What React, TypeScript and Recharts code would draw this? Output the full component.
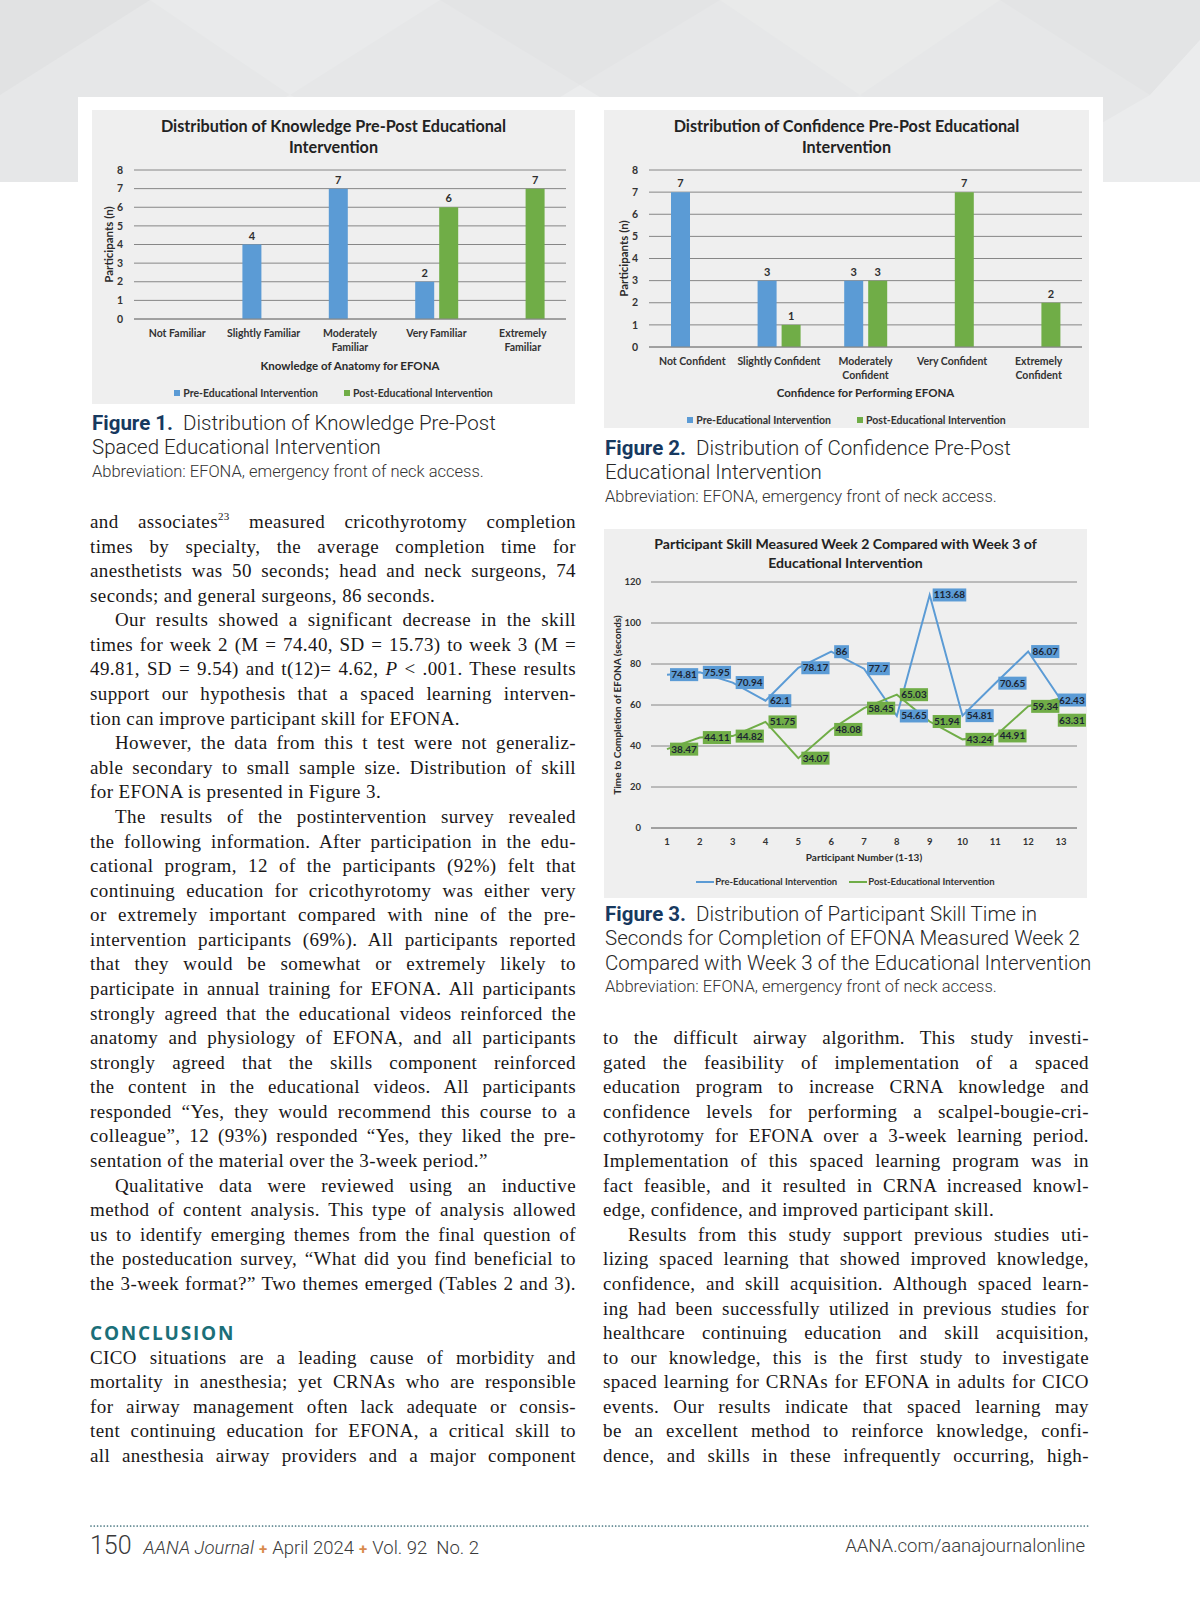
import React from "react";
import {
    BarChart,
    Bar,
    LineChart,
    Line,
    XAxis,
    YAxis,
    CartesianGrid,
    LabelList,
    Label,
} from "recharts";

// Figure 1 -- knowledge
const knowledgeLevels = ["Not Familiar", "Slightly Familiar", "Moderately\nFamiliar", "Very Familiar", "Extremely\nFamiliar"];
const knowledgePre = [0, 4, 7, 2, 0];
const knowledgePost = [0, 0, 0, 6, 7];

// Figure 2 -- confidence
const confidenceLevels = ["Not Confident", "Slightly Confident", "Moderately\nConfident", "Very Confident", "Extremely\nConfident"];
const confidencePre = [7, 3, 3, 0, 0];
const confidencePost = [0, 1, 3, 7, 2];

// Figure 3 -- skill time (seconds)
const participantNumbers = ["1", "2", "3", "4", "5", "6", "7", "8", "9", "10", "11", "12", "13"];
const skillWeek2 = [74.81, 75.95, 70.94, 62.1, 78.17, 86, 77.7, 54.65, 113.68, 54.81, 70.65, 86.07, 62.43];
const skillWeek3 = [38.47, 44.11, 44.82, 51.75, 34.07, 48.08, 58.45, 65.03, 51.94, 43.24, 44.91, 59.34, 63.31];

const countTicks = [0, 1, 2, 3, 4, 5, 6, 7, 8];
const secondTicks = [0, 20, 40, 60, 80, 100, 120];

const PRE = "#5b9bd5";
const POST = "#70ad47";
const GRID = "#868686";
const CHART_FONT = "Lato, 'Open Sans', sans-serif";
const SERIF = "'Liberation Serif', 'DejaVu Serif', serif";
const SANS = "Roboto, 'Liberation Sans', sans-serif";

function CategoryTick({ x, y, payload }: any) {
    const lines = String(payload.value).split("\n");
    return (
        <text x={x} y={y} textAnchor="middle" fontFamily={CHART_FONT} fontSize={10.5} fontWeight={700} fill="#333">
            {lines.map((l, i) => (
                <tspan key={i} x={x} dy={i === 0 ? 10 : 13.5}>
                    {l}
                </tspan>
            ))}
        </text>
    );
}

function yTitle(text: string, dx: number, size: number) {
    return (p: any) => {
        const vb = p.viewBox || {};
        const x = (vb.x || 0) + dx;
        const y = (vb.y || 0) + (vb.height || 0) / 2;
        return (
            <text
                x={x}
                y={y}
                transform={`rotate(-90 ${x} ${y})`}
                textAnchor="middle"
                dominantBaseline="central"
                fontFamily={CHART_FONT}
                fontSize={size}
                fontWeight={700}
                fill="#2b2b2b"
            >
                {text}
            </text>
        );
    };
}

function xTitle(text: string, dy: number, size: number) {
    return (p: any) => {
        const vb = p.viewBox || {};
        const x = (vb.x || 0) + (vb.width || 0) / 2;
        const y = (vb.y || 0) + dy;
        return (
            <text x={x} y={y} textAnchor="middle" dominantBaseline="central" fontFamily={CHART_FONT} fontSize={size} fontWeight={700} fill="#2b2b2b">
                {text}
            </text>
        );
    };
}

function ChartTitle({ lines, top, size, lh }: { lines: string[]; top: number; size: number; lh: number }) {
    return (
        <div
            style={{
                position: "absolute",
                left: 0,
                right: 0,
                top,
                textAlign: "center",
                fontFamily: CHART_FONT,
                fontWeight: 700,
                fontSize: size,
                lineHeight: `${lh}px`,
                color: "#222",
            }}
        >
            {lines.map((l) => (
                <div key={l}>{l}</div>
            ))}
        </div>
    );
}

function SwatchLegend({ top, kind }: { top: number; kind: "square" | "line" }) {
    const items = [
        { label: "Pre-Educational Intervention", color: PRE },
        { label: "Post-Educational Intervention", color: POST },
    ];
    return (
        <div
            style={{
                position: "absolute",
                left: 0,
                right: 0,
                top,
                display: "flex",
                justifyContent: "center",
                gap: kind === "square" ? 26 : 12,
                fontFamily: CHART_FONT,
                fontWeight: 700,
                fontSize: kind === "square" ? 10.5 : 9.5,
                color: "#333",
                lineHeight: "14px",
            }}
        >
            {items.map((it) => (
                <div key={it.label} style={{ display: "flex", alignItems: "center" }}>
                    {kind === "square" ? (
                        <span style={{ width: 6, height: 6, background: it.color, marginRight: 3 }} />
                    ) : (
                        <span style={{ width: 18, height: 2, background: it.color, marginRight: 1 }} />
                    )}
                    {it.label}
                </div>
            ))}
        </div>
    );
}

const valueLabelStyle = { fontFamily: CHART_FONT, fontSize: 11, fontWeight: 700, fill: "#2e2e2e" };

interface BarFigureProps {
    title: string[];
    categories: string[];
    pre: number[];
    post: number[];
    axisTitle: string;
    width: number;
    height: number;
    yWidth: number;
    right: number;
    xHeight: number;
    yTitleDx: number;
    xTitleDy: number;
    legendTop: number;
}

function BarFigure(p: BarFigureProps) {
    const data = p.categories.map((name, i) => ({ name, pre: p.pre[i], post: p.post[i] }));
    return (
        <div style={{ position: "relative", width: p.width, height: p.height, background: "#efefef" }}>
            <ChartTitle lines={p.title} top={5} size={16.2} lh={21} />
            <BarChart
                width={p.width}
                height={p.height}
                data={data}
                margin={{ top: 60, right: p.right, left: 0, bottom: 0 }}
                barGap={5}
                barSize={19}
                style={{ position: "absolute", left: 0, top: 0 }}
            >
                <CartesianGrid vertical={false} stroke={GRID} />
                <XAxis
                    dataKey="name"
                    height={p.xHeight}
                    tickLine={false}
                    axisLine={{ stroke: GRID }}
                    interval={0}
                    tick={<CategoryTick />}
                >
                    <Label content={xTitle(p.axisTitle, p.xTitleDy, 11.5)} />
                </XAxis>
                <YAxis
                    width={p.yWidth}
                    domain={[0, 8]}
                    ticks={countTicks}
                    interval={0}
                    axisLine={false}
                    tickLine={false}
                    tickMargin={5}
                    tick={{ fontFamily: CHART_FONT, fontSize: 10.5, fontWeight: 700, fill: "#333" }}
                >
                    <Label content={yTitle("Participants (n)", p.yTitleDx, 11.5)} />
                </YAxis>
                <Bar dataKey="pre" fill={PRE} isAnimationActive={false}>
                    <LabelList dataKey="pre" position="top" offset={5} style={valueLabelStyle} />
                </Bar>
                <Bar dataKey="post" fill={POST} isAnimationActive={false}>
                    <LabelList dataKey="post" position="top" offset={5} style={valueLabelStyle} />
                </Bar>
            </BarChart>
            <SwatchLegend top={p.legendTop} kind="square" />
        </div>
    );
}

// data label box to the right of each point, kept inside the chart frame
function valueTag(color: string, frameWidth: number, nudge: Record<number, number> = {}) {
    return (props: any) => {
        const { x, y, value, index } = props;
        if (x == null || y == null) return null;
        const txt = String(value);
        let w = 4;
        for (const ch of txt) w += ch === "." ? 2.6 : 5.4;
        const bx = Math.min(x + 3, frameWidth - w - 1);
        const cy = y + (nudge[index] || 0);
        return (
            <g>
                <rect x={bx} y={cy - 6.5} width={w} height={13} fill={color} />
                <text x={bx + w / 2} y={cy + 3.5} textAnchor="middle" fontFamily={CHART_FONT} fontSize={10} fontWeight={700} fill="#1c2533">
                    {txt}
                </text>
            </g>
        );
    };
}

function SkillFigure() {
    const data = participantNumbers.map((name, i) => ({ name, pre: skillWeek2[i], post: skillWeek3[i] }));
    const W = 483;
    const H = 369;
    return (
        <div style={{ position: "relative", width: W, height: H, background: "#efefef", overflow: "hidden" }}>
            <ChartTitle
                lines={["Participant Skill Measured Week 2 Compared with Week 3 of", "Educational Intervention"]}
                top={4.5}
                size={14.1}
                lh={19}
            />
            <LineChart
                width={W}
                height={H}
                data={data}
                margin={{ top: 53, right: 10, left: 0, bottom: 0 }}
                style={{ position: "absolute", left: 0, top: 0 }}
            >
                <CartesianGrid vertical={false} stroke={GRID} />
                <XAxis
                    dataKey="name"
                    height={70}
                    padding={{ left: 16, right: 16 }}
                    tickLine={false}
                    axisLine={{ stroke: GRID }}
                    interval={0}
                    tickMargin={4}
                    tick={{ fontFamily: CHART_FONT, fontSize: 9.5, fontWeight: 700, fill: "#333" }}
                >
                    <Label content={xTitle("Participant Number (1-13)", 29, 10)} />
                </XAxis>
                <YAxis
                    width={47}
                    domain={[0, 120]}
                    ticks={secondTicks}
                    interval={0}
                    axisLine={false}
                    tickLine={false}
                    tickMargin={4}
                    tick={{ fontFamily: CHART_FONT, fontSize: 9.5, fontWeight: 700, fill: "#333" }}
                >
                    <Label content={yTitle("Time to Completion of EFONA (seconds)", 13, 10)} />
                </YAxis>
                <Line type="linear" dataKey="pre" stroke={PRE} strokeWidth={2} dot={false} isAnimationActive={false}>
                    <LabelList dataKey="pre" content={valueTag(PRE, W)} />
                </Line>
                <Line type="linear" dataKey="post" stroke={POST} strokeWidth={2} dot={false} isAnimationActive={false}>
                    <LabelList dataKey="post" content={valueTag(POST, W, { 12: 22 })} />
                </Line>
            </LineChart>
            <div style={{ position: "absolute", left: 0, right: 0, top: 346 }}>
                <SwatchLegend top={0} kind="line" />
            </div>
        </div>
    );
}

function Caption({ left, top, figure, lines }: { left: number; top: number; figure: string; lines: string[] }) {
    return (
        <div style={{ position: "absolute", left, top, width: 500, fontFamily: SANS, color: "#262626", lineHeight: "24.6px" }}>
            {lines.map((l, i) => (
                <div key={i} style={{ fontSize: 20.5, fontWeight: 300, whiteSpace: "nowrap" }}>
                    {i === 0 && <span style={{ fontWeight: 700, color: "#17395f", marginRight: 10 }}>{figure}</span>}
                    {l}
                </div>
            ))}
            <div style={{ fontSize: 16.5, fontWeight: 300, color: "#333" }}>Abbreviation: EFONA, emergency front of neck access.</div>
        </div>
    );
}

type TL = { t: React.ReactNode; indent?: boolean; last?: boolean; head?: boolean; blank?: boolean };

const leftLines: TL[] = [
    { t: <>and associates<sup style={{ fontSize: 11, verticalAlign: "8px", lineHeight: 0 }}>23</sup> measured cricothyrotomy completion</> },
    { t: "times by specialty, the average completion time for" },
    { t: "anesthetists was 50 seconds; head and neck surgeons, 74" },
    { t: "seconds; and general surgeons, 86 seconds.", last: true },
    { t: "Our results showed a significant decrease in the skill", indent: true },
    { t: "times for week 2 (M = 74.40, SD = 15.73) to week 3 (M =" },
    { t: <>49.81, SD = 9.54) and t(12)= 4.62, <i>P</i> &lt; .001. These results</> },
    { t: "support our hypothesis that a spaced learning interven-" },
    { t: "tion can improve participant skill for EFONA.", last: true },
    { t: "However, the data from this t test were not generaliz-", indent: true },
    { t: "able secondary to small sample size. Distribution of skill" },
    { t: "for EFONA is presented in Figure 3.", last: true },
    { t: "The results of the postintervention survey revealed", indent: true },
    { t: "the following information. After participation in the edu-" },
    { t: "cational program, 12 of the participants (92%) felt that" },
    { t: "continuing education for cricothyrotomy was either very" },
    { t: "or extremely important compared with nine of the pre-" },
    { t: "intervention participants (69%). All participants reported" },
    { t: "that they would be somewhat or extremely likely to" },
    { t: "participate in annual training for EFONA. All participants" },
    { t: "strongly agreed that the educational videos reinforced the" },
    { t: "anatomy and physiology of EFONA, and all participants" },
    { t: "strongly agreed that the skills component reinforced" },
    { t: "the content in the educational videos. All participants" },
    { t: "responded \u201cYes, they would recommend this course to a" },
    { t: "colleague\u201d, 12 (93%) responded \u201cYes, they liked the pre-" },
    { t: "sentation of the material over the 3-week period.\u201d", last: true },
    { t: "Qualitative data were reviewed using an inductive", indent: true },
    { t: "method of content analysis. This type of analysis allowed" },
    { t: "us to identify emerging themes from the final question of" },
    { t: "the posteducation survey, \u201cWhat did you find beneficial to" },
    { t: "the 3-week format?\u201d Two themes emerged (Tables 2 and 3)." },
    { t: "", blank: true },
    { t: "CONCLUSION", head: true },
    { t: "CICO situations are a leading cause of morbidity and" },
    { t: "mortality in anesthesia; yet CRNAs who are responsible" },
    { t: "for airway management often lack adequate or consis-" },
    { t: "tent continuing education for EFONA, a critical skill to" },
    { t: "all anesthesia airway providers and a major component" },
];

const rightLines: TL[] = [
    { t: "to the difficult airway algorithm. This study investi-" },
    { t: "gated the feasibility of implementation of a spaced" },
    { t: "education program to increase CRNA knowledge and" },
    { t: "confidence levels for performing a scalpel-bougie-cri-" },
    { t: "cothyrotomy for EFONA over a 3-week learning period." },
    { t: "Implementation of this spaced learning program was in" },
    { t: "fact feasible, and it resulted in CRNA increased knowl-" },
    { t: "edge, confidence, and improved participant skill.", last: true },
    { t: "Results from this study support previous studies uti-", indent: true },
    { t: "lizing spaced learning that showed improved knowledge," },
    { t: "confidence, and skill acquisition. Although spaced learn-" },
    { t: "ing had been successfully utilized in previous studies for" },
    { t: "healthcare continuing education and skill acquisition," },
    { t: "to our knowledge, this is the first study to investigate" },
    { t: "spaced learning for CRNAs for EFONA in adults for CICO" },
    { t: "events. Our results indicate that spaced learning may" },
    { t: "be an excellent method to reinforce knowledge, confi-" },
    { t: "dence, and skills in these infrequently occurring, high-" },
];

const LINE = 24.58;

function TextColumn({ left, top, width, lines }: { left: number; top: number; width: number; lines: TL[] }) {
    return (
        <div style={{ position: "absolute", left, top, width, fontFamily: SERIF, fontSize: 19, letterSpacing: 0.4, color: "#1a1718" }}>
            {lines.map((l, i) =>
                l.head ? (
                    <div
                        key={i}
                        style={{
                            height: LINE,
                            lineHeight: `${LINE}px`,
                            fontFamily: "'Open Sans', sans-serif",
                            fontWeight: 700,
                            fontSize: 19,
                            letterSpacing: 1.8,
                            color: "#1b6f79",
                        }}
                    >
                        {l.t}
                    </div>
                ) : (
                    <div
                        key={i}
                        style={{
                            height: LINE,
                            lineHeight: `${LINE}px`,
                            textAlign: "justify",
                            textAlignLast: l.last ? "left" : "justify",
                            textIndent: l.indent ? 25 : 0,
                        }}
                    >
                        {l.t}
                    </div>
                )
            )}
        </div>
    );
}

function Backdrop() {
    return (
        <svg width={1200} height={182} style={{ position: "absolute", left: 0, top: 0 }}>
            <rect x={0} y={0} width={1200} height={182} fill="#e6e7e8" />
            <polygon points="0,0 150,0 0,95" fill="#e1e2e3" />
            <polygon points="150,0 440,0 290,95" fill="#e9eaeb" />
            <polygon points="290,95 100,182 480,182" fill="#eaebec" />
            <polygon points="440,0 720,0 580,85" fill="#e3e4e5" />
            <polygon points="580,85 420,182 740,182" fill="#ebeced" />
            <polygon points="720,0 1000,0 860,95" fill="#e9eaea" />
            <polygon points="860,95 700,182 1020,182" fill="#e8e9ea" />
            <polygon points="1000,0 1200,0 1200,40 1150,95" fill="#e3e4e5" />
            <polygon points="1150,95 1000,182 1200,182 1200,40" fill="#ebeced" />
            <rect x={78} y={97} width={1025} height={85} fill="#ffffff" />
        </svg>
    );
}

function Footer() {
    return (
        <>
            <svg width={1200} height={10} style={{ position: "absolute", left: 0, top: 1521 }}>
                <line x1={91} y1={5} x2={1089} y2={5} stroke="#3f6f7a" strokeWidth={1.7} strokeDasharray="0 3.3" strokeLinecap="round" />
            </svg>
            <div
                style={{
                    position: "absolute",
                    left: 90,
                    top: 1531,
                    display: "flex",
                    alignItems: "baseline",
                    fontFamily: SANS,
                    fontWeight: 300,
                    color: "#3a3a3a",
                    fontSize: 18.5,
                    whiteSpace: "nowrap",
                }}
            >
                <span style={{ fontSize: 25, marginRight: 12 }}>150</span>
                <span style={{ fontStyle: "italic" }}>AANA Journal</span>
                <span style={{ color: "#d98a4e", fontSize: 15, fontWeight: 700, margin: "0 5px" }}>+</span>
                <span>April 2024</span>
                <span style={{ color: "#d98a4e", fontSize: 15, fontWeight: 700, margin: "0 5px" }}>+</span>
                <span>Vol. 92&nbsp;&nbsp;No. 2</span>
            </div>
            <div
                style={{
                    position: "absolute",
                    right: 115,
                    top: 1535,
                    fontFamily: SANS,
                    fontWeight: 300,
                    color: "#3a3a3a",
                    fontSize: 18.5,
                }}
            >
                AANA.com/aanajournalonline
            </div>
        </>
    );
}

export default function App() {
    return (
        <div style={{ position: "absolute", left: 0, top: 0, width: 1200, height: 1606, overflow: "hidden", background: "#fff" }}>
            <Backdrop />
            <div style={{ position: "absolute", left: 92, top: 110 }}>
                <BarFigure
                    title={["Distribution of Knowledge Pre-Post Educational", "Intervention"]}
                    categories={knowledgeLevels}
                    pre={knowledgePre}
                    post={knowledgePost}
                    axisTitle="Knowledge of Anatomy for EFONA"
                    width={483}
                    height={294}
                    yWidth={42}
                    right={9}
                    xHeight={85}
                    yTitleDx={16}
                    xTitleDy={46}
                    legendTop={276}
                />
            </div>
            <div style={{ position: "absolute", left: 604, top: 110 }}>
                <BarFigure
                    title={["Distribution of Confidence Pre-Post Educational", "Intervention"]}
                    categories={confidenceLevels}
                    pre={confidencePre}
                    post={confidencePost}
                    axisTitle="Confidence for Performing EFONA"
                    width={485}
                    height={318}
                    yWidth={45}
                    right={7}
                    xHeight={81}
                    yTitleDx={19}
                    xTitleDy={45}
                    legendTop={303}
                />
            </div>
            <div style={{ position: "absolute", left: 604, top: 529 }}>
                <SkillFigure />
            </div>
            <Caption left={92} top={410.7} figure="Figure 1." lines={["Distribution of Knowledge Pre-Post", "Spaced Educational Intervention"]} />
            <Caption left={605} top={435.7} figure="Figure 2." lines={["Distribution of Confidence Pre-Post", "Educational Intervention"]} />
            <Caption
                left={605}
                top={901.7}
                figure="Figure 3."
                lines={[
                    "Distribution of Participant Skill Time in",
                    "Seconds for Completion of EFONA Measured Week 2",
                    "Compared with Week 3 of the Educational Intervention",
                ]}
            />
            <TextColumn left={90} top={510} width={486} lines={leftLines} />
            <TextColumn left={603} top={510 + 21 * LINE} width={486} lines={rightLines} />
            <Footer />
        </div>
    );
}
